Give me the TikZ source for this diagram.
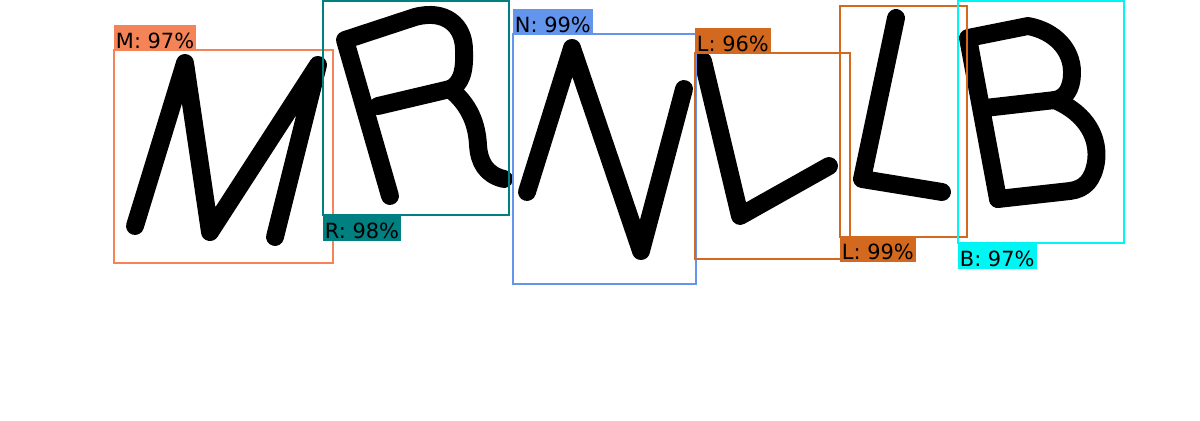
\documentclass[tikz,border=0pt]{standalone}
\usepackage{fontspec}
\newfontfamily\tagfont{DejaVu Sans}
\definecolor{mcol}{RGB}{244,131,88}
\definecolor{rcol}{RGB}{0,128,128}
\definecolor{ncol}{RGB}{100,149,237}
\definecolor{lcol}{RGB}{210,105,30}
\definecolor{bcol}{RGB}{0,245,245}
\tikzset{
	ink/.style={draw=black, line width=10.2pt, line cap=round, line join=round},
	frame/.style={line width=1.1pt},
	tag/.style={inner xsep=1.2pt, inner ysep=0pt, text height=13.2pt, text depth=1.5pt, font=\tagfont\fontsize{11.9pt}{12pt}\selectfont, text=black}
}
\begin{document}
\begin{tikzpicture}[x=0.02cm, y=-0.02cm]
	\useasboundingbox (0,0) rectangle (1200,420);
	
	\draw[ink] (135,226) -- (185,63) -- (210,232) -- (318,65) -- (275,237);
	\draw[ink] (390,196) -- (345,40) -- (415,17) .. controls (445,9) and (464,25) .. (464,50) .. controls (465,72) and (461,84) .. (450,89) -- (378,106);
	\draw[ink] (450,89) .. controls (470,105) and (477,125) .. (478,145) .. controls (479,162) and (486,175) .. (504,179);
	\draw[ink] (527,192) -- (572,48) -- (641,251) -- (684,89);
	\draw[ink] (703,61) -- (740,216) -- (829,166);
	\draw[ink] (896,18) -- (862,179) -- (942,192);
	\draw[ink] (998,199) -- (968,38) -- (1028,26) .. controls (1055,31) and (1072,50) .. (1072,72) .. controls (1072,90) and (1065,98) .. (1055,100) -- (985,108);
	\draw[ink] (1055,100) .. controls (1089,115) and (1099,140) .. (1096,162) .. controls (1093,180) and (1085,189) .. (1070,191) -- (998,199);
	
	\draw[frame, mcol] (114,50) rectangle (333,263);
	\node[tag, fill=mcol, anchor=south west] (mtag) at (113.5,51) {M: 97\%};
	\draw[frame, rcol] (323,1) rectangle (509,215);
	\node[tag, fill=rcol, anchor=north west] (rtag) at (322.5,214.5) {R: 98\%};
	\draw[frame, ncol] (513,34) rectangle (696,284);
	\node[tag, fill=ncol, anchor=south west] (ntag) at (512.5,35) {N: 99\%};
	\draw[frame, lcol] (695,53) rectangle (850,259);
	\node[tag, fill=lcol, anchor=south west] (ltag) at (694.5,54) {L: 96\%};
	\draw[frame, lcol] (840,6) rectangle (967,237);
	\node[tag, fill=lcol, anchor=north west] (lltag) at (839.5,236) {L: 99\%};
	\draw[frame, bcol] (958,1) rectangle (1124,243);
	\node[tag, fill=bcol, anchor=north west] (btag) at (957.5,242.5) {B: 97\%};
\end{tikzpicture}
\end{document}
